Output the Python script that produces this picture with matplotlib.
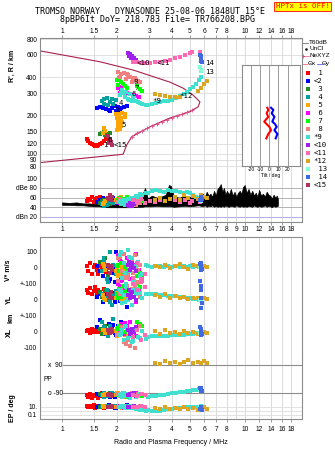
import numpy as np
import matplotlib
matplotlib.use("Agg")
from matplotlib import pyplot as plt
import matplotlib.ticker as plticker

nan = np.nan

# ---- texts
title_1 = "TROMSO NORWAY   DYNASONDE 25-08-06 1848UT 15°E"
title_2 = "8pBP6It DoY= 218.783 File= TR766208.BPG"
warn_text = "HPTx is OFF!"
x_label = "Radio and Plasma Frequency / MHz"

freq_ticks = [1, 1.5, 2, 3, 4, 5, 6, 7, 8, 10, 12, 14, 16, 18]
freq_ticks_mid = [1, 1.5, 2, 3, 4, 5, 6, 7, 8, 9, 10, 12, 14, 16, 18]
height_ticks = [800, 600, 400, 300, 200, 150, 120, 100, 90, 80]
amp_ticks = [100, 80, 60, 40, 20]
amp_labels = ["100", "dBe 80", "60", "40", "dBn 20"]
vel_ticks = [100, 0, -100, -200, -300, -400, -500]
vel_labels = ["100", "0", "+-100", "0", "+-100", "0", "-100"]
ep_ticks = [10, 0.1]
ep_labels = ["10.", "0.1"]
tilt_ticks = [-20, -10, 0, 10, 20]

trace_names = [" 1", "<2", " 3", " 4", " 5", " 6", " 7", " 8", "*9",
               "<10", "<11", "*12", " 13", " 14", "<15"]

# ---- echo traces: frequency MHz, virtual height km, amplitude dB,
#      V* m/s, YL km, XL km, polarisation deg, EP deg
f1 = [1.37, 1.39, 1.42, 1.46, 1.50, 1.52, 1.55, 1.57, 1.61, 1.66, 1.70, 1.74, 1.79]
h1 = [130, 126, 122, 120, 118, 115, 116, 117, 119, 122, 126, 130, 134]
amp1 = [52, 58, 55, 62, 50, 57, 60, 54, 61, 56, 52, 58, 55]
vs1 = [10, -20, 30, -35, 5, 20, -10, -40, 15, 0, 25, -25, 8]
yl1 = [60, 45, 75, 35, 55, 80, 40, 65, 50, 30, 70, 45, 55]
xl1 = [5, 15, -5, 20, 0, 10, 25, -3, 12, 8, 18, 2, 10]
pp1 = [-100, -115, -95, -125, -105, -110, -98, -120, -108, -92, -118, -102, -112]
ep1 = [15, 8, 20, 10, 25, 6, 12, 18, 9, 14, 7, 22, 11]

f2 = [1.55, 1.61, 1.68, 1.74, 1.81, 1.88, 1.95, 2.03, 2.10, 2.18, 2.27, 1.83, 1.98, 2.08, 1.90]
h2 = [229, 233, 229, 225, 221, 229, 237, 233, 229, 233, 237, 217, 217, 221, 246]
amp2 = [50, 55, 60, 53, 58, 48, 52, 56, 50, 46, 52, 57, 49, 54, 60]
vs2 = [10, -20, -50, 5, -80, -30, -90, 15, -60, -10, -40, -70, 100, -25, -5]
yl2 = [20, 40, -10, 30, 5, 45, -15, 10, 35, 0, -45, 25, 50, -5, 15]
xl2 = [30, 75, 10, -15, 50, 20, -5, 40, 60, 0, 25, 35, -19, 15, 45]
pp2 = [-95, -105, -88, -112, -100, -92, -118, -98, -108, -90, -102, -115, -96, -110, -100]
ep2 = [12, 20, 8, 15, 25, 10, 6, 18, 9, 14, 30, 11, 7, 16, 13]

f3 = [1.61, 1.66, 1.72, 1.78, 1.83, 1.70]
h3 = [142, 146, 140, 144, 146, 150]
amp3 = [48, 52, 45, 50, 47, 55]
vs3 = [40, -20, 60, -50, 10, 25]
yl3 = [50, 20, 60, 0, 35, 10]
xl3 = [20, -10, 40, 10, 30, -5]
pp3 = [-95, -105, -100, -110, -92, -98]
ep3 = [10, 15, 8, 12, 20, 9]

f4 = [1.66, 1.70, 1.76, 1.83, 1.90, 1.97, 1.70, 1.78, 1.88]
h4 = [260, 270, 274, 255, 246, 265, 246, 242, 270]
amp4 = [46, 50, 44, 52, 48, 55, 42, 47, 51]
vs4 = [-20, 40, -70, 100, 20, -40, 60, -90, 10]
yl4 = [40, 10, 60, -10, 30, 55, 0, 20, -30]
xl4 = [60, 20, -15, 40, 80, 5, 30, -25, 15]
pp4 = [-100, -92, -110, -98, -105, -95, -115, -102, -90]
ep4 = [12, 8, 18, 10, 14, 20, 9, 16, 11]

f5 = [1.98, 2.05, 2.13, 2.21, 2.0, 2.10, 2.21, 2.03, 2.13, 2.03, 2.10, 2.0, 2.08, 1.70, 1.72, 1.68]
h5 = [205, 205, 209, 205, 191, 191, 195, 178, 178, 165, 165, 154, 156, 159, 151, 146]
amp5 = [55, 60, 52, 58, 50, 62, 54, 57, 49, 53, 60, 51, 56, 48, 52, 46]
vs5 = [-20, 10, -40, 5, -30, 20, -10, -50, 0, 15, -25, -5, -35, 10, -15, 25]
yl5 = [10, 30, -5, 20, 40, 0, 15, 25, -10, 35, 5, 45, 20, 10, 0, 30]
xl5 = [5, -10, 15, -20, 0, 10, -5, 20, -15, 5, 25, -25, 0, 10, -5, 15]
pp5 = [-100, -95, -110, -105, -90, -98, -115, -102, -108, -92, -112, -96, -104, -100, -94, -106]
ep5 = [10, 14, 8, 16, 12, 9, 18, 11, 7, 13, 15, 10, 20, 12, 9, 14]

f6 = [2.03, 2.10, 2.18, 2.27, 2.36, 2.45, 2.54, 2.64, 2.08, 2.21, 2.13]
h6 = [329, 317, 306, 300, 295, 290, 285, 279, 300, 290, 335]
amp6 = [52, 48, 55, 46, 50, 57, 44, 53, 49, 56, 47]
vs6 = [80, 40, -30, 60, -70, 20, 90, -10, 50, -50, 30]
yl6 = [100, 120, 60, 85, 30, 110, -10, 70, 90, 40, 125]
xl6 = [20, 50, -10, 35, 60, 5, -25, 40, 15, 55, 30]
pp6 = [-95, -108, -90, -115, -100, -105, -92, -110, -98, -103, -96]
ep6 = [10, 15, 7, 12, 18, 9, 13, 8, 16, 11, 14]

f7 = [2.0, 2.05, 2.10, 2.16, 2.21, 2.03, 2.27, 2.57, 2.67, 2.74]
h7 = [380, 394, 367, 354, 341, 347, 329, 341, 323, 311]
amp7 = [56, 60, 52, 58, 54, 50, 62, 55, 48, 53]
vs7 = [10, -20, 30, -40, 5, 20, -10, -50, -30, -60]
yl7 = [40, 70, 20, 90, 50, 10, 60, 100, 80, 120]
xl7 = [20, 40, 10, 30, 0, 25, 15, 60, 50, 35]
pp7 = [-100, -95, -110, -92, -105, -98, -115, -102, -96, -108]
ep7 = [12, 9, 15, 10, 18, 8, 14, 11, 20, 10]

f8 = [2.03, 2.10, 2.18, 2.27, 2.36, 2.45, 2.54, 2.08, 2.24, 2.42, 2.60, 2.66, 2.30, 2.50]
h8 = [440, 428, 434, 422, 405, 394, 380, 405, 387, 367, 375, 370, 415, 398]
amp8 = [50, 46, 55, 48, 58, 52, 44, 57, 47, 53, 60, 49, 51, 45]
vs8 = [60, -20, 90, -50, 30, -70, 10, 70, -40, 40, -10, 20, -60, 80]
yl8 = [120, 60, 150, 90, 30, 170, 100, 40, 140, 70, 110, 20, 160, 80]
xl8 = [-20, 30, -60, 10, -90, -40, 20, -10, -75, 5, -30, 40, -50, -100]
pp8 = [-98, -110, -92, -105, -115, -100, -95, -108, -102, -90, -112, -97, -106, -100]
ep8 = [10, 14, 8, 16, 11, 20, 9, 13, 7, 15, 12, 18, 10, 8]

f9 = [2.08, 2.13, 2.18, 2.24, 2.30, 2.36, 2.42, 2.48, 2.61, 2.74, 2.88, 2.10, 2.20, 2.33, 2.45, 2.55, 2.68,
      2.95, 3.11, 3.29, 3.44, 3.62, 3.80, 4.00, 4.20, 4.42, 4.65, 4.83, 5.02, 5.21, 5.42, 5.62, 5.77]
h9 = [290, 317, 300, 306, 270, 295, 260, 285, 255, 246, 244, 300, 280, 265, 275, 262, 250,
      244, 248, 252, 255, 259, 262, 267, 274, 285, 296, 307, 323, 338, 357, 380, 402]
amp9 = [50, 46, 55, 48, 58, 52, 60, 47, 62, 66, 70, 53, 45, 57, 49, 63, 68,
        70, 73, 75, 74, 72, 75, 73, 74, 72, 70, 71, 69, 66, 62, 60, 61]
vs9 = [80, -60, 30, -100, 110, -20, 60, -80, 40, -40, 20, 100, -30, 70, -90, 10, -50,
       12, 8, 15, 10, 5, 14, 9, 12, 6, 10, 8, 12, 5, 10, 6, 8]
yl9 = [60, -20, 30, 80, 0, 45, -30, 20, 70, 10, 40, 50, -10, 25, 65, 35, 45,
       40, 38, 36, 33, 30, 28, 26, 22, 20, 16, 14, 12, 8, 6, 3, 0]
xl9 = [-20, 10, -50, 30, -40, 0, -60, 20, -30, 5, -45, -10, 40, -25, -55, 15, -35,
       -30, -28, -26, -25, -24, -22, -20, -19, -18, -16, -14, -12, -10, -9, -7, -5]
pp9 = [-100, -115, -90, -108, -95, -120, -102, -92, -110, -98, -105, -96, -112, -104, -100, -118, -94,
       -116, -112, -108, -104, -100, -96, -92, -88, -85, -82, -78, -75, -72, -70, -66, -64]
ep9 = [10, 15, 8, 20, 12, 6, 14, 9, 3, 2, 1, 11, 7, 16, 5, 4, 2,
       1.5, 1.0, 0.8, 1.2, 2, 3, 4, 5, 6, 8, 9, 10, 12, 10, 12, 14]

f10 = [2.30, 2.36, 2.42, 2.48, 2.54, 2.39, 2.33]
h10 = [621, 610, 588, 567, 547, 567, 588]
amp10 = [44, 48, 42, 46, 50, 45, 43]
vs10 = [20, -10, 30, 0, -20, 10, 40]
yl10 = [30, 10, 50, 20, 0, 40, 60]
xl10 = [10, -10, 20, 0, 30, -5, 15]
pp10 = [-100, -95, -105, -92, -110, -98, -102]
ep10 = [10, 12, 8, 15, 9, 11, 13]

f11 = [2.45, 2.57, 2.70, 2.85, 3.03, 3.23, 3.44, 3.66, 3.90, 4.16, 4.42, 4.71, 5.02, 5.15, 5.69, 5.69]
h11 = [527, 527, 518, 518, 518, 527, 527, 537, 547, 567, 577, 598, 621, 632, 632, 598]
amp11 = [55, 50, 58, 48, 53, 50, 56, 52, 58, 54, 50, 55, 48, 52, 56, 50]
vs11 = [-60, 30, -90, -40, nan, nan, nan, nan, nan, nan, nan, nan, nan, nan, nan, nan]
yl11 = [100, 60, 130, 80, nan, nan, nan, nan, nan, nan, nan, nan, nan, nan, nan, nan]
xl11 = [-30, 10, -50, -20, nan, nan, nan, nan, nan, nan, nan, nan, nan, nan, nan, nan]
pp11 = [-100, -110, -95, -105, nan, nan, nan, nan, nan, nan, nan, nan, nan, nan, nan, nan]
ep11 = [10, 8, 14, 12, nan, nan, nan, nan, nan, nan, nan, nan, nan, nan, nan, nan]

f12 = [3.23, 3.44, 3.66, 3.90, 4.16, 4.42, 4.65, 4.90, 5.20, 5.55, 5.77, 5.99, 6.22]
h12 = [295, 290, 285, 279, 279, 279, nan, nan, nan, 311, 329, 354, 373]
amp12 = [55, 60, 52, 58, 62, 56, 65, 60, 63, 58, 66, 62, 60]
vs12 = [15, 5, 20, 0, 12, 25, 8, -5, 18, 10, 2, 14, 6]
yl12 = [30, 20, 35, 15, 25, 10, 20, 5, 15, 10, 0, 12, 5]
xl12 = [5, -10, 10, -5, 0, -15, 8, -8, 2, -12, 5, 0, -6]
pp12 = [105, 98, 115, 100, 110, 95, 108, 120, 102, 112, 100, 118, 106]
ep12 = [5, 3, 8, 2.5, 6, 4, 10, 3, 7, 2, 5, 12, 4]

f13 = [5.69, 5.75, 5.80]
h13 = [480, 460, 445]
amp13 = [55, 58, 52]
vs13 = [5, 10, 0]
yl13 = [0, 5, -5]
xl13 = [-5, 0, -10]
pp13 = [-70, -65, -75]
ep13 = [5, 3, 8]

f14 = [5.72, 5.74, 5.76, 5.78, 5.80, 5.82]
h14 = [600, 585, 570, 555, 540, 525]
amp14 = [56, 62, 58, 54, 60, 57]
vs14 = [25, -10, 10, 0, 30, -5]
yl14 = [120, -50, 60, 10, 90, -20]
xl14 = [30, -20, 10, 0, 20, -10]
pp14 = [-60, -70, -55, -75, -65, -80]
ep14 = [4, 6, 3, 8, 5, 2]

f15 = [1.79, 1.83, 1.85, 1.88, 1.81]
h15 = [138, 130, 124, 117, 122]
amp15 = [60, 65, 55, 62, 58]
vs15 = [20, -30, 10, -10, 0]
yl15 = [40, 20, 50, 10, 30]
xl15 = [10, -5, 20, 0, 5]
pp15 = [-100, -95, -110, -105, -98]
ep15 = [12, 9, 15, 10, 8]

# ---- trace labels inside the height panel
lab_text = ["1", "<15", "5", "6", "3", "4", "6", "7", "8", "*9", "<10", "<11", "*12", "13", "14"]
lab_f = [1.68, 1.91, 2.12, 1.77, 1.95, 2.05, 2.39, 2.51, 2.46, 3.11, 2.57, 3.31, 4.42, 6.06, 6.06]
lab_h = [117, 117, 168, 128, 221, 253, 293, 329, 369, 260, 518, 518, 283, 438, 517]

# ---- model profile and NeXYZ points
model_f = [0.75, 1.61, 2.45, 3.90, 4.59, 5.21, 5.69, 5.56, 5.02, 3.90, 3.03, 2.41, 2.26, 2.16, 0.75]
model_h = [647, 530, 456, 366, 329, 290, 256, 234, 214, 191, 163, 136, 117, 99, 85]
ne_f = [2.41, 2.57, 2.74, 2.92, 3.11, 3.31, 3.53, 3.76, 4.00, 4.26, 4.54, 4.83, 5.15]
ne_h = [136, 146, 151, 159, 165, 171, 178, 184, 191, 198, 205, 213, 221]

# ---- tilt inset
tilt_h = [230, 221, 208, 195, 179, 171, 163, 153, 143, 132]
tilt_x = [-2.2, -1.1, -3.0, -1.1, -5.6, -3.0, 0.0, 1.9, -1.1, -3.3]
tilt_y = [1.9, 4.4, 2.6, 5.6, 3.3, 6.3, 8.1, 5.6, 8.9, 7.0]

# ---- background amplitude envelope
amp_f = [1.0, 1.1, 1.2, 1.3, 1.4, 1.5, 1.6, 1.7, 1.8, 1.9, 2.0, 2.2, 2.4, 2.6, 2.75, 2.85, 2.95,
         3.1, 3.3, 3.5, 3.7, 3.85, 3.95, 4.1, 4.4, 4.7, 5.0, 5.3, 5.6,
         5.9, 6.05, 6.2, 6.35, 6.5, 6.65, 6.8, 6.95, 7.1, 7.25, 7.4, 7.55, 7.7, 7.85, 8.0,
         8.2, 8.4, 8.6, 8.8, 9.0, 9.2, 9.4, 9.6, 9.8, 10.0, 10.25, 10.5, 10.75, 11.0, 11.25,
         11.5, 11.75, 12.0, 12.3, 12.6, 12.9, 13.2, 13.5, 13.8, 14.1, 14.4, 14.7, 15.0, 15.2]
amp_lo = [45, 45, 44, 44, 43, 42, 42, 41, 40, 40, 40, 40, 40, 41, 41, 42, 42,
          42, 43, 42, 42, 42, 42, 41, 42, 43, 42, 43, 44,
          42, 44, 41, 43, 42, 44, 41, 43, 41, 42, 41, 43, 41, 44, 42,
          41, 43, 42, 41, 44, 42, 41, 43, 41, 42, 41, 43, 42, 41, 44,
          42, 41, 43, 41, 42, 44, 41, 43, 42, 40, 43, 41, 42, 43]
amp_hi = [50, 49, 50, 48, 48, 47, 47, 46, 46, 45, 46, 47, 48, 52, 66, 80, 58,
          64, 60, 62, 66, 86, 84, 62, 60, 64, 62, 60, 58,
          68, 62, 72, 64, 68, 62, 74, 64, 78, 82, 88, 72, 80, 66, 74,
          66, 78, 64, 72, 62, 70, 74, 68, 82, 86, 70, 78, 66, 74, 64,
          70, 62, 76, 64, 68, 62, 72, 66, 64, 58, 66, 60, 64, 58]

trace_colors = ["#ff0000", "#0000ff", "#228b22", "#00a0a0", "#ffa500", "#ff00ff", "#00ff00",
                "#f08080", "#40e0d0", "#a020f0", "#ff69b4", "#daa520", "#7fffd4", "#4169e1",
                "#b03060"]

traces = [
    (f1, h1, amp1, vs1, yl1, xl1, pp1, ep1),
    (f2, h2, amp2, vs2, yl2, xl2, pp2, ep2),
    (f3, h3, amp3, vs3, yl3, xl3, pp3, ep3),
    (f4, h4, amp4, vs4, yl4, xl4, pp4, ep4),
    (f5, h5, amp5, vs5, yl5, xl5, pp5, ep5),
    (f6, h6, amp6, vs6, yl6, xl6, pp6, ep6),
    (f7, h7, amp7, vs7, yl7, xl7, pp7, ep7),
    (f8, h8, amp8, vs8, yl8, xl8, pp8, ep8),
    (f9, h9, amp9, vs9, yl9, xl9, pp9, ep9),
    (f10, h10, amp10, vs10, yl10, xl10, pp10, ep10),
    (f11, h11, amp11, vs11, yl11, xl11, pp11, ep11),
    (f12, h12, amp12, vs12, yl12, xl12, pp12, ep12),
    (f13, h13, amp13, vs13, yl13, xl13, pp13, ep13),
    (f14, h14, amp14, vs14, yl14, xl14, pp14, ep14),
    (f15, h15, amp15, vs15, yl15, xl15, pp15, ep15),
]

plt.rcParams['font.family'] = ['Liberation Sans', 'DejaVu Sans']
plt.rcParams['font.size'] = 4.8

W, H = 335.0, 451.0
fig = plt.figure(figsize=(W / 100, H / 100), dpi=100)
fig.patch.set_facecolor("white")

FRAME = "#8c8c8c"
GRID = "#d4d4d4"
MONO = ["DejaVu Sans Mono"]


def box(x0, y0, x1, y1):
    return fig.add_axes([x0 / W, 1 - y1 / H, (x1 - x0) / W, (y1 - y0) / H])


def freq_axis(ax, labels=None, where="bottom", pad=1.0):
    ax.set_xscale("log")
    ax.set_xlim(0.758, 20.6)
    ax.xaxis.set_minor_locator(plticker.NullLocator())
    for f in freq_ticks_mid:
        ax.axvline(f, color=GRID, lw=0.6, zorder=0)
    if labels is None:
        ax.set_xticks([])
    else:
        ax.set_xticks(labels, labels=["%g" % v for v in labels])
        ax.xaxis.set_ticks_position(where)
        ax.tick_params(axis="x", length=2, width=0.6, color=FRAME, pad=pad, labelsize=4.8)
    for s in ax.spines.values():
        s.set_color(FRAME)
        s.set_linewidth(0.8)
    ax.tick_params(axis="y", length=0, pad=2, labelsize=4.8)


# ---- header
fig.text(150 / W, 1 - 12 / H, title_1, ha="center", va="center", family=MONO, fontsize=6)
fig.text(157 / W, 1 - 20 / H, title_2, ha="center", va="center", family=MONO, fontsize=6)
fig.text(302.5 / W, 1 - 6.5 / H, warn_text, ha="center", va="center", family=MONO,
         fontsize=5.3, color="#ff0000",
         bbox=dict(facecolor="#ffff00", edgecolor="#ff0000", lw=0.6, pad=1.2))

# ---- height panel
ax_h = box(40, 38, 302, 167)
freq_axis(ax_h, freq_ticks, "top", pad=0.4)
ax_h.set_yscale("log")
ax_h.set_ylim(78.6, 814.7)
ax_h.yaxis.set_minor_locator(plticker.NullLocator())
ax_h.set_yticks(height_ticks, labels=[str(v) for v in height_ticks])
for v in height_ticks:
    ax_h.axhline(v, color=GRID, lw=0.5, zorder=0)
ax_h.spines["bottom"].set_visible(False)
ax_h.plot(model_f, model_h, color="#a8224c", lw=0.8, zorder=2)
ax_h.plot(ne_f, ne_h, color="#e0508c", lw=0.5, marker="+", ms=2.5, mew=0.6, zorder=2)

# ---- amplitude panel
ax_a = box(40, 167, 302, 222)
freq_axis(ax_a, freq_ticks_mid, "bottom", pad=1.0)
ax_a.set_ylim(9.4, 123.4)
ax_a.set_yticks(amp_ticks, labels=amp_labels)
for v in [80, 60, 40]:
    ax_a.axhline(v, color="#a8a8a8", lw=0.6, zorder=0)
ax_a.axhline(20, color="#b4b4e6", lw=0.8, zorder=0)
ax_a.spines["top"].set_visible(False)
ax_a.fill_between(amp_f, amp_lo, amp_hi, color="black", lw=0.5, zorder=2)

# ---- velocity / location panel
ax_v = box(40, 237, 302, 356)
freq_axis(ax_v)
ax_v.set_ylim(-550, 193.75)
ax_v.set_yticks(vel_ticks, labels=vel_labels)
ax_v.spines["bottom"].set_visible(False)

# ---- polarisation panel
ax_p = box(40, 356, 302, 400)
freq_axis(ax_p)
ax_p.set_ylim(-135, 147.9)
ax_p.set_yticks([])
ax_p.spines["top"].set_visible(False)
ax_p.spines["bottom"].set_visible(False)
ax_p.axhline(90, xmin=0.088, color="#8c8c8c", lw=0.8, zorder=1)
ax_p.axhline(-90, xmin=0.088, color="#8c8c8c", lw=0.8, zorder=1)
ax_p.text(0.03, 90, "x  90", transform=ax_p.get_yaxis_transform(), va="center", fontsize=4.8)
ax_p.text(0.03, -90, "o -90", transform=ax_p.get_yaxis_transform(), va="center", fontsize=4.8)
ax_p.text(0.012, 0, "PP", transform=ax_p.get_yaxis_transform(), va="center", fontsize=4.8)

# ---- EP panel
ax_e = box(40, 400, 302, 419)
freq_axis(ax_e, freq_ticks, "bottom", pad=3.0)
ax_e.set_yscale("log")
ax_e.set_ylim(0.01, 562)
ax_e.yaxis.set_minor_locator(plticker.NullLocator())
ax_e.set_yticks(ep_ticks, labels=ep_labels)
for v in [10, 1, 0.1]:
    ax_e.axhline(v, color="#dddddd", lw=0.6, zorder=0)
ax_e.spines["top"].set_visible(False)
ax_e.set_xlabel(x_label, fontsize=5, labelpad=4)

# ---- echoes
for (f, h, a, v, y, x, p, e), c in zip(traces, trace_colors):
    f = np.asarray(f, dtype=float)
    kw = dict(marker="s", color=c, linewidths=0, zorder=3)
    ax_h.scatter(f, h, s=5, **kw)
    ax_a.scatter(f, a, s=5, **kw)
    ax_v.scatter(f, v, s=5, **kw)
    ax_v.scatter(f, np.asarray(y, dtype=float) - 200, s=5, **kw)
    ax_v.scatter(f, np.asarray(x, dtype=float) - 400, s=5, **kw)
    ax_p.scatter(f, p, s=5, **kw)
    ax_e.scatter(f, e, s=5, **kw)

for t, f, h in zip(lab_text, lab_f, lab_h):
    ax_h.text(f, h, t, family=MONO, fontsize=5.3, va="center", ha="left", zorder=4)

# ---- tilt inset
ax_t = box(242, 65, 300, 166)
ax_t.set_facecolor("white")
ax_t.set_zorder(5)
ax_t.set_yscale("log")
ax_t.set_ylim(80, 499)
ax_t.set_xlim(-30, 33.7)
ax_t.set_yticks([])
ax_t.yaxis.set_minor_locator(plticker.NullLocator())
ax_t.set_xticks(tilt_ticks, labels=[str(v) for v in tilt_ticks])
ax_t.tick_params(axis="x", length=0, pad=1, labelsize=3.6)
ax_t.set_xlabel("Tilt / deg", fontsize=3.6, labelpad=0.5)
for v in tilt_ticks:
    ax_t.axvline(v, color="#8c8c8c", lw=0.6, zorder=0)
for s in ax_t.spines.values():
    s.set_color(FRAME)
    s.set_linewidth(0.8)
ax_t.plot(tilt_x, tilt_h, color="#ff0000", lw=1.5)
ax_t.plot(tilt_y, tilt_h, color="#0000ff", lw=1.5)

# ---- axis titles
for txt, x, y in [("R', R / km", 12, 66), ("V* m/s", 9, 270), ("YL", 9, 300),
                  ("km", 11, 318), ("XL", 9, 333), ("EP / deg", 13, 408)]:
    fig.text(x / W, 1 - y / H, txt, rotation=90, ha="center", va="center",
             fontsize=5, fontweight="bold")

# ---- legend column
ax_l = box(302, 36, 335, 192)
ax_l.set_axis_off()
ax_l.set_xlim(302, 335)
ax_l.set_ylim(192, 36)
ax_l.plot([303, 308], [43, 43], color="#909090", lw=0.8)
ax_l.text(309, 43, "T60dB", va="center", fontsize=4.6)
ax_l.plot([306], [49], color="black", marker="o", ms=0.8)
ax_l.text(310, 49, "UnCl", va="center", fontsize=4.6)
ax_l.plot([303, 309], [55.5, 55.5], color="#e0508c", lw=0.5, marker="+", ms=2.5, mew=0.6,
          markevery=[0])
ax_l.text(309, 55.5, "NeXYZ", va="center", fontsize=4.6)
ax_l.plot([302.5, 307], [63.5, 63.5], color="#ff6080", lw=0.6)
ax_l.text(307.5, 63.5, "Θx", va="center", fontsize=4.6)
ax_l.plot([316.5, 321.5], [63.5, 63.5], color="#6060ff", lw=0.6)
ax_l.text(322, 63.5, "Θy", va="center", fontsize=4.6)
for k, (name, c) in enumerate(zip(trace_names, trace_colors)):
    yk = 73 + 8 * k
    ax_l.plot([307.5], [yk], marker="s", ms=2.6, color=c, mew=0)
    ax_l.text(313.5, yk, name, family=MONO, fontsize=5.2, va="center", ha="left")

fig.savefig("out.png", dpi=100)
